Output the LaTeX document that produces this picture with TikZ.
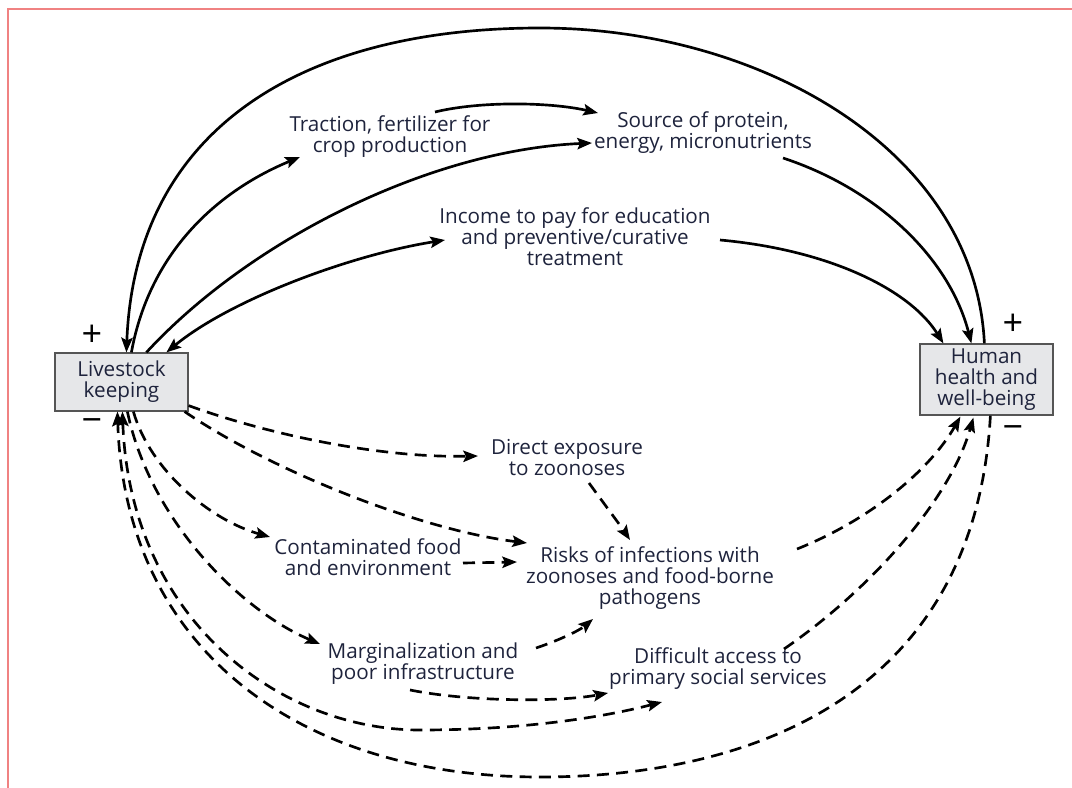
\documentclass[tikz,border=0pt]{standalone}
\usepackage{fontspec}
\setmainfont{Open Sans}
\usetikzlibrary{arrows.meta,calc}
\definecolor{txt}{RGB}{30,35,60}
\definecolor{boxfill}{RGB}{230,231,233}
\definecolor{boxline}{RGB}{85,85,85}
\definecolor{framered}{RGB}{240,130,130}
\begin{document}
\begin{tikzpicture}[x=0.75pt,y=-0.75pt,
  lbl/.style={font=\fontsize{15.5}{15.75}\selectfont, text=txt, align=center, inner sep=0pt},
  boxnode/.style={draw=boxline, line width=0.9pt, fill=boxfill, minimum width=99.75pt, inner sep=0pt,
     font=\fontsize{15.5}{15.75}\selectfont, text=txt, align=center},
  conn/.style={line width=2pt, -{Stealth[length=11pt,width=8.5pt,inset=2pt]}},
  conntwo/.style={line width=2pt, {Stealth[length=11pt,width=8.5pt,inset=2pt]}-{Stealth[length=11pt,width=8.5pt,inset=2pt]}},
  dashsty/.style={dash pattern=on 9pt off 5.5pt},
  sign/.style={font=\fontsize{27}{27}\selectfont, text=black, inner sep=0pt}]
\useasboundingbox (0,0) rectangle (1072,788);
\draw[framered, line width=1.1pt] (1072,9) -- (8,9) -- (8,788);

% boxes
\node[boxnode, minimum height=43.5pt] (lk) at (121.5,382) {Livestock\\keeping};
\node[boxnode, minimum height=53.25pt] (hh) at (986.5,379.5) {Human\\health and\\well-being};

% signs
\node[sign] (lkp) at (92,336) {+};
\node[sign] (lkm) at (92,426) {−};
\node[sign] (hhp) at (1013,325) {+};
\node[sign] (hhm) at (1013,433) {−};

% labels
\node[lbl] (trac) at (390,137) {Traction, fertilizer for\\crop production};
\node[lbl] (src) at (703,133) {Source of protein,\\energy, micronutrients};
\node[lbl] (inc) at (575,237) {Income to pay for education\\and preventive/curative\\treatment};
\node[lbl] (dir) at (567,458) {Direct exposure\\to zoonoses};
\node[lbl] (cont) at (368,557) {Contaminated food\\and environment};
\node[lbl] (risk) at (650,578) {Risks of infections with\\zoonoses and food-borne\\pathogens};
\node[lbl] (marg) at (423,664) {Marginalization and\\poor infrastructure};
\node[lbl] (diff) at (718,669) {Difficult access to\\primary social services};

% solid connectors
\draw[conn] ($(hh.north west)+(65,0)$) .. controls (975,150) and (760,28) .. (540,28)
   .. controls (300,28) and (135,130) .. ($(lk.north west)+(72,0)$);
\draw[conn] ($(lk.north west)+(77,0)$) .. controls (150,250) and (220,190) .. ($(trac.center)+(-90,20)$);
\draw[conn] ($(trac.center)+(45,-25)$) .. controls (480,101) and (550,102) .. ($(src.center)+(-105,-20)$);
\draw[conn] ($(lk.north west)+(92,0)$) .. controls (250,240) and (430,150) .. ($(src.center)+(-111,10)$);
\draw[conntwo] ($(lk.north west)+(112,0)$) .. controls (230,300) and (350,255) .. ($(inc.center)+(-130,3)$);
\draw[conn] ($(inc.center)+(145,3)$) .. controls (830,250) and (910,290) .. ($(hh.north west)+(24,0)$);
\draw[conn] ($(src.center)+(80,25)$) .. controls (880,190) and (950,260) .. ($(hh.north west)+(52,0)$);

% dashed connectors
\draw[conn,dashsty] ($(lk.south east)+(0,-6)$) .. controls (270,435) and (380,458) .. ($(dir.center)+(-89,-2)$);
\draw[conn,dashsty] ($(lk.south east)+(-4,0)$) .. controls (270,470) and (420,530) .. ($(risk.center)+(-123,-35)$);
\draw[conn,dashsty] ($(lk.south west)+(79,0)$) .. controls (150,470) and (210,520) .. ($(cont.center)+(-98,-20)$);
\draw[conn,dashsty] ($(cont.center)+(95,6)$) -- ($(risk.center)+(-133,-16)$);
\draw[conn,dashsty] ($(dir.center)+(22,25)$) .. controls (605,505) and (620,525) .. ($(risk.center)+(-20,-38)$);
\draw[conn,dashsty] ($(lk.south west)+(73,0)$) .. controls (150,520) and (240,610) .. ($(marg.center)+(-103,-20)$);
\draw[conn,dashsty] ($(marg.center)+(113,-16)$) .. controls (560,640) and (580,630) .. ($(risk.center)+(-57,41)$);
\draw[conn,dashsty] ($(marg.center)+(-13,26)$) .. controls (470,702) and (560,702) .. ($(diff.center)+(-110,24)$);
\draw[conntwo,dashsty] ($(lk.south west)+(68,0)$) .. controls (130,620) and (280,730) .. (420,730)
   .. controls (520,730) and (600,718) .. ($(diff.center)+(-56,33)$);
\draw[conn,dashsty] ($(hh.south west)+(71,0)$) .. controls (975,690) and (760,777) .. (540,777)
   .. controls (300,777) and (125,650) .. ($(lk.south west)+(63,0)$);
\draw[conn,dashsty] ($(risk.center)+(147,-29)$) .. controls (870,520) and (930,470) .. ($(hh.south west)+(41,1)$);
\draw[conn,dashsty] ($(diff.center)+(66,-20)$) .. controls (870,590) and (950,500) .. ($(hh.south west)+(54,2)$);
\end{tikzpicture}
\end{document}
